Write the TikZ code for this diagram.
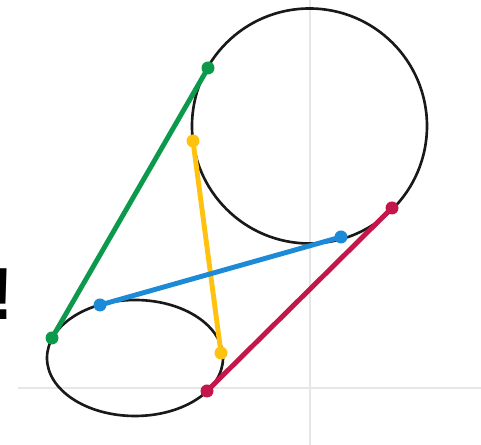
\documentclass[tikz,border=0pt]{standalone}
\usepackage{fontspec}
\setsansfont{Liberation Sans}
\usepackage{tikz}
\definecolor{TangentGreen}{HTML}{0B9A4B}
\definecolor{TangentBlue}{HTML}{1C8AD6}
\definecolor{TangentYellow}{HTML}{FFC20E}
\definecolor{TangentRed}{HTML}{C3174B}
\definecolor{AxisGray}{HTML}{E6E6E6}

\begin{document}
\begin{tikzpicture}[x=0.02cm,y=-0.02cm,
    seg/.style={line width=2.8pt},
    curve/.style={line width=1.5pt,black!90}]
    \useasboundingbox (0,0) rectangle (481,445);
    % axes
    \draw[AxisGray,line width=1.6pt] (18,388) -- (481,388);
    \draw[AxisGray,line width=1.6pt] (310,0) -- (310,445);
    % the two curves
    \draw[curve] (309.5,126) circle (117.5);
    \draw[curve] (135,358) ellipse [x radius=88,y radius=58];
    % points of contact
    \coordinate (g1) at (52,338);  \coordinate (g2) at (208,68);
    \coordinate (b1) at (100,305); \coordinate (b2) at (341,237);
    \coordinate (y1) at (221,353); \coordinate (y2) at (193,141);
    \coordinate (r1) at (207,391); \coordinate (r2) at (392,208);
    \draw[seg,TangentGreen] (g1) -- (g2);
    \draw[seg,TangentYellow] (y1) -- (y2);
    \draw[seg,TangentBlue] (b1) -- (b2);
    \draw[seg,TangentRed] (r1) -- (r2);
    \foreach \p/\c in {g1/TangentGreen,g2/TangentGreen,b1/TangentBlue,b2/TangentBlue,
                       y1/TangentYellow,y2/TangentYellow,r1/TangentRed,r2/TangentRed} {
      \fill[\c] (\p) circle (6.5);
    }
    \node[anchor=base east,inner sep=0pt,font=\sffamily\bfseries\fontsize{42}{42}\selectfont] (bang) at (14,320) {!};
  \end{tikzpicture}
\end{document}
